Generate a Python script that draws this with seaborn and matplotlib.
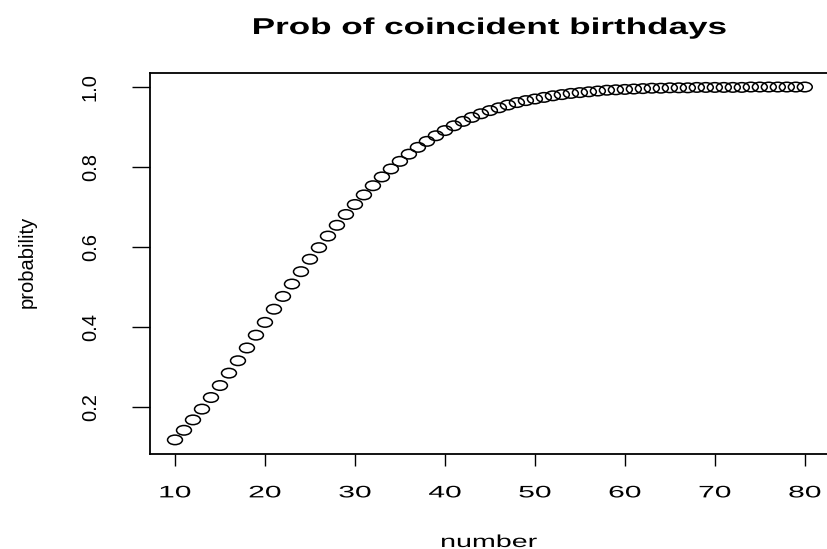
import matplotlib
matplotlib.use("Agg")
import matplotlib.pyplot as plt
from matplotlib.path import Path
from matplotlib.transforms import Affine2D
from matplotlib.patheffects import AbstractPathEffect
import pandas as pd
import seaborn as sns

# Group sizes and probability that at least two people share a birthday
number = list(range(10, 81))
probability = [
    0.117, 0.141, 0.167, 0.194, 0.223, 0.253, 0.284, 0.315, 0.347, 0.379,
    0.411, 0.444, 0.476, 0.507, 0.538, 0.569, 0.598, 0.627, 0.654, 0.681,
    0.706, 0.730, 0.753, 0.775, 0.795, 0.814, 0.832, 0.849, 0.864, 0.878,
    0.891, 0.903, 0.914, 0.924, 0.933, 0.941, 0.948, 0.955, 0.961, 0.966,
    0.970, 0.974, 0.978, 0.981, 0.984, 0.986, 0.988, 0.990, 0.992, 0.993,
    0.994, 0.995, 0.996, 0.997, 0.997, 0.998, 0.998, 0.998, 0.999, 0.999,
    0.999, 0.999, 0.999, 0.999, 1.000, 1.000, 1.000, 1.000, 1.000, 1.000,
    1.000,
]
x_ticks = [10, 20, 30, 40, 50, 60, 70, 80]
y_ticks = [0.2, 0.4, 0.6, 0.8, 1.0]

df = pd.DataFrame({"number": number, "probability": probability})

sns.set_theme(style="white")
plt.rcParams["font.family"] = ["Liberation Sans", "DejaVu Sans"]
for key in ["text.color", "axes.labelcolor", "xtick.color", "ytick.color",
            "axes.edgecolor"]:
    plt.rcParams[key] = "black"


class WideText(AbstractPathEffect):
    """Widen glyphs horizontally about the centre of the drawn string."""

    def __init__(self, sx):
        super().__init__()
        self.sx = sx

    def draw_path(self, renderer, gc, tpath, affine, rgbFace=None):
        ext = tpath.get_extents(affine)
        cx = 0.5 * (ext.x0 + ext.x1)
        widen = Affine2D().translate(-cx, 0).scale(self.sx, 1).translate(cx, 0)
        renderer.draw_path(gc, tpath, affine + widen, rgbFace)


fig = plt.figure(figsize=(8.27, 5.49), dpi=100)
W, H = 827, 549
left, right, top, bottom = 149.8, 830.0, 72.9, 454.0
ax = fig.add_axes([left / W, 1 - bottom / H, (right - left) / W, (bottom - top) / H])

# open elliptical point symbol
circ = Path.unit_circle()
ell = Path(Affine2D().scale(1.0, 0.64).transform(circ.vertices), circ.codes)

sns.scatterplot(data=df, x="number", y="probability", ax=ax,
                marker=ell, s=115, facecolor="none", edgecolor="black",
                linewidth=1.1)

# axis ranges with 4% padding
xr = max(number) - min(number)
yr = max(probability) - min(probability)
ax.set_xlim(min(number) - 0.04 * xr, max(number) + 0.04 * xr)
ax.set_ylim(min(probability) - 0.04 * yr, max(probability) + 0.04 * yr)

ax.set_xticks(x_ticks)
ax.set_xticklabels([str(t) for t in x_ticks], fontsize=12)
for lab in ax.get_xticklabels():
    lab.set_path_effects([WideText(1.8)])
ax.set_yticks(y_ticks)
ax.set_yticklabels([f"{t:.1f}" for t in y_ticks], fontsize=14.5,
                   rotation=90, va="center")
ax.tick_params(axis="x", length=8.6, width=1, color="black", pad=14,
               bottom=True, direction="out")
ax.tick_params(axis="y", length=13, width=1, color="black", pad=23,
               left=True, direction="out")

for s in ax.spines.values():
    s.set_color("black")
    s.set_linewidth(1.3)

ax.set_xlabel("")
ax.set_ylabel("")
xl = fig.text(489 / W, 1 - 547 / H, "number", ha="center", va="baseline",
              fontsize=12.5)
xl.set_path_effects([WideText(1.65)])
fig.text(27 / W, 1 - 262 / H, "probability", ha="center", va="center",
         rotation=90, fontsize=14.5)
tt = fig.text(489 / W, 1 - 34 / H, "Prob of coincident birthdays",
              ha="center", va="baseline", fontsize=16.5, fontweight="bold")
tt.set_path_effects([WideText(1.53)])

fig.savefig("out.png", dpi=100)
